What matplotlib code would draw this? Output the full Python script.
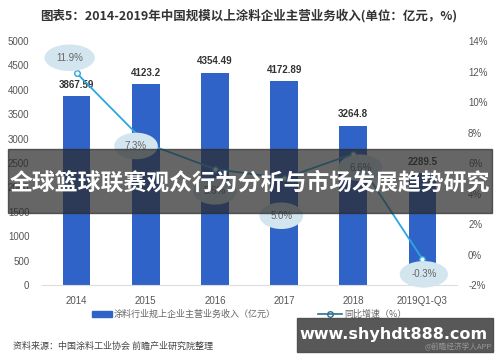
import matplotlib
matplotlib.use("Agg")
import matplotlib.pyplot as plt
from matplotlib.patches import Rectangle
from matplotlib.lines import Line2D

plt.rcParams['font.family'] = ['Noto Sans CJK SC', 'DejaVu Sans']

categories = ['2014', '2015', '2016', '2017', '2018', '2019Q1-Q3']
revenue = [3867.59, 4123.2, 4354.49, 4172.89, 3264.8, 2289.5]
growth = [11.9, 7.3, 5.6, 5.0, 6.6, -0.3]
rev_labels = ['3867.59', '4123.2', '4354.49', '4172.89', '3264.8', '2289.5']
growth_labels = ['11.9%', '7.3%', '5.6%', '5.0%', '6.6%', '-0.3%']
left_ticks = [0, 500, 1000, 1500, 2000, 2500, 3000, 3500, 4000, 4500, 5000]
right_ticks = [-2, 0, 2, 4, 6, 8, 10, 12, 14]

bar_color = '#3063c8'
line_color = '#2aa7de'
bubble_color = '#d3e6f0'
grey = '#555555'
num_font = ['Liberation Sans', 'DejaVu Sans']

fig = plt.figure(figsize=(5, 3.62), dpi=100)
ax = fig.add_axes([0.084, 0.2127, 0.83, 0.674])
ax2 = ax.twinx()

x = list(range(len(categories)))
ax.bar(x, revenue, width=0.4, color=bar_color, zorder=2)
ax.set_xlim(-0.5, 5.5)
ax.set_ylim(0, 5000)
ax.set_yticks(left_ticks)
ax.set_xticks(x)
ax.set_xticklabels(categories)
ax.tick_params(axis='x', length=0, labelsize=7, labelcolor=grey, pad=8)
ax.tick_params(axis='y', length=0, labelsize=7, labelcolor=grey, pad=9)
for s in ['top', 'right', 'left']:
    ax.spines[s].set_visible(False)
    ax2.spines[s].set_visible(False)
ax.spines['bottom'].set_color('#dddddd')
ax2.spines['bottom'].set_visible(False)
for lab in ax.get_xticklabels() + ax.get_yticklabels():
    lab.set_family(num_font)

for xi, v, t in zip(x, revenue, rev_labels):
    ax.annotate(t, (xi, v), xytext=(0, 4.5), textcoords='offset points',
                ha='center', va='bottom', fontsize=7, fontweight='bold',
                color='#333333', family=num_font)

ax2.set_ylim(-2, 14)
ax2.set_yticks(right_ticks)
ax2.set_yticklabels([f'{t}%' for t in right_ticks])
ax2.tick_params(axis='y', length=0, labelsize=7, labelcolor=grey, pad=8)
for lab in ax2.get_yticklabels():
    lab.set_family(num_font)
ax2.plot(x, growth, color=line_color, lw=1.3, marker='o', ms=4,
         mfc='white', mec=line_color, mew=1, zorder=4)

offsets = [(-5, 11), (-7, -2), (0, -16), (-2, -27), (5, -10), (1, -11)]
for xi, g, t, (dx, dy) in zip(x, growth, growth_labels, offsets):
    ax2.annotate(t, (xi, g), xytext=(dx, dy), textcoords='offset points',
                 ha='center', va='center', fontsize=7, color='#666666',
                 family=num_font,
                 bbox=dict(boxstyle='ellipse,pad=0.45', fc=bubble_color, ec='none'),
                 zorder=5)

# title
fig.text(0.497, 0.957, '图表5：2014-2019年中国规模以上涂料企业主营业务收入(单位：亿元，%)',
         ha='center', va='center', fontsize=9.0, fontweight='bold', color='#333333')

# legend
fig.patches.append(Rectangle((92/500, 1-317/362), 20/500, 6/362,
                             transform=fig.transFigure, color=bar_color))
fig.text(114/500, 1-314/362, '涂料行业规上企业主营业务收入（亿元）', ha='left', va='center',
         fontsize=6.5, color='#666666')
fig.lines.append(Line2D([318/500, 342/500], [1-314/362, 1-314/362],
                        transform=fig.transFigure, color='#2f6f8f', lw=1.2,
                        zorder=3))
fig.lines.append(Line2D([330/500], [1-314/362], transform=fig.transFigure,
                        marker='o', ms=4, mfc='white', mec='#2f6f8f', color='none'))
fig.text(344/500, 1-314/362, '同比增速（%）', ha='left', va='center',
         fontsize=6.5, color='#666666')

# source
fig.text(13/500, 1-346/362, '资料来源：中国涂料工业协会 前瞻产业研究院整理', ha='left',
         va='center', fontsize=6.5, color='#444444')

# banner overlay
fig.patches.append(Rectangle((8/500, 1-213/362), 484/500, 64/362,
                             transform=fig.transFigure, color='#2b2b2b',
                             alpha=0.72, zorder=10))
fig.text(0.5, 1-183/362, '全球篮球联赛观众行为分析与市场发展趋势研究', ha='center',
         va='center', fontsize=16.5, fontweight='bold', color='white', zorder=11)

# watermark box
fig.patches.append(Rectangle((297/500, 1-352/362), 196/500, 34/362,
                             transform=fig.transFigure, color='#4a4a4a',
                             alpha=0.92, zorder=10))
fig.text(394/500, 1-335/362, 'www.shyhdt888.com', ha='center', va='center',
         fontsize=11.5, fontweight='bold', color='white', zorder=11,
         family=['DejaVu Sans'])
fig.text(492/500, 1-347/362, '@前瞻经济学人APP', ha='right', va='center',
         fontsize=5.5, color='#999999', zorder=11)

fig.savefig('out.png', dpi=100)
